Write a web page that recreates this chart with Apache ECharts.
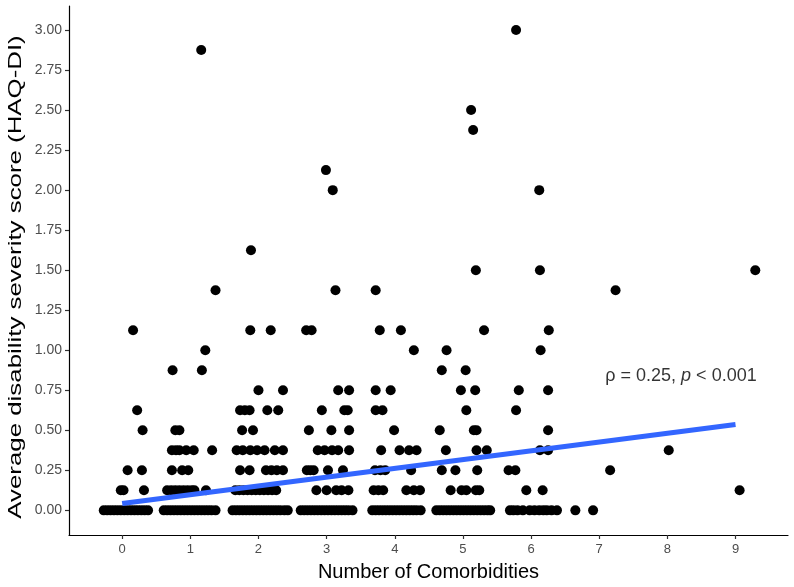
<!DOCTYPE html>
<html>
<head>
<meta charset="utf-8">
<script src="https://cdn.jsdelivr.net/npm/echarts@6/dist/echarts.min.js"></script>
<style>
html, body { margin: 0; padding: 0; background: #fff; }
#chart { width: 794px; height: 587px; }
</style>
</head>
<body>
<div id="chart"></div>
<script>
// jittered points per number of comorbidities: [x, HAQ-DI]
var group0 = [
    [-0.27, 0], [-0.22, 0], [-0.17, 0], [-0.12, 0], [-0.07, 0], [-0.02, 0], [0.03, 0], [0.08, 0],
    [0.13, 0], [0.18, 0], [0.23, 0], [0.28, 0], [0.33, 0], [0.38, 0],
    [-0.02, 0.125], [0.02, 0.125], [0.32, 0.125],
    [0.08, 0.25], [0.29, 0.25],
    [0.30, 0.5], [0.22, 0.625], [0.16, 1.125]
];
var group1 = [
    [0.61, 0], [0.66, 0], [0.71, 0], [0.76, 0], [0.81, 0], [0.86, 0], [0.91, 0], [0.96, 0],
    [1.01, 0], [1.06, 0], [1.11, 0], [1.16, 0], [1.21, 0], [1.26, 0], [1.31, 0], [1.37, 0],
    [0.66, 0.125], [0.72, 0.125], [0.78, 0.125], [0.84, 0.125], [0.90, 0.125], [0.96, 0.125],
    [1.02, 0.125], [1.06, 0.125], [1.23, 0.125],
    [0.73, 0.25], [0.88, 0.25], [0.97, 0.25],
    [0.73, 0.375], [0.79, 0.375], [0.84, 0.375], [0.94, 0.375], [1.05, 0.375], [1.32, 0.375],
    [0.78, 0.5], [0.84, 0.5],
    [0.74, 0.875], [1.17, 0.875], [1.22, 1.0], [1.37, 1.375], [1.16, 2.875]
];
var group2 = [
    [1.62, 0], [1.67, 0], [1.72, 0], [1.77, 0], [1.82, 0], [1.87, 0], [1.92, 0], [1.97, 0],
    [2.02, 0], [2.07, 0], [2.12, 0], [2.17, 0], [2.22, 0], [2.27, 0], [2.32, 0], [2.38, 0], [2.43, 0],
    [1.66, 0.125], [1.72, 0.125], [1.78, 0.125], [1.84, 0.125], [1.90, 0.125], [1.96, 0.125],
    [2.02, 0.125], [2.08, 0.125], [2.14, 0.125], [2.20, 0.125], [2.26, 0.125],
    [1.73, 0.25], [1.87, 0.25], [2.11, 0.25], [2.19, 0.25], [2.27, 0.25], [2.36, 0.25],
    [1.68, 0.375], [1.77, 0.375], [1.88, 0.375], [1.98, 0.375], [2.09, 0.375], [2.24, 0.375], [2.36, 0.375],
    [1.76, 0.5], [1.92, 0.5],
    [1.73, 0.625], [1.80, 0.625], [1.87, 0.625], [2.13, 0.625], [2.29, 0.625],
    [2.00, 0.75], [2.36, 0.75],
    [1.88, 1.125], [2.18, 1.125], [1.89, 1.625]
];
var group3 = [
    [2.62, 0], [2.67, 0], [2.72, 0], [2.77, 0], [2.82, 0], [2.87, 0], [2.92, 0], [2.97, 0],
    [3.02, 0], [3.07, 0], [3.12, 0], [3.17, 0], [3.22, 0], [3.27, 0], [3.32, 0], [3.38, 0],
    [2.85, 0.125], [3.00, 0.125], [3.14, 0.125], [3.22, 0.125], [3.32, 0.125],
    [2.71, 0.25], [2.76, 0.25], [2.81, 0.25], [3.02, 0.25], [3.24, 0.25],
    [2.87, 0.375], [2.97, 0.375], [3.08, 0.375], [3.17, 0.375], [3.33, 0.375],
    [2.74, 0.5], [3.07, 0.5], [3.33, 0.5],
    [2.93, 0.625], [3.26, 0.625], [3.31, 0.625],
    [3.17, 0.75], [3.33, 0.75],
    [2.70, 1.125], [2.78, 1.125], [3.13, 1.375], [3.09, 2.0], [2.99, 2.125]
];
var group4 = [
    [3.67, 0], [3.72, 0], [3.77, 0], [3.82, 0], [3.87, 0], [3.92, 0], [3.97, 0], [4.02, 0],
    [4.07, 0], [4.12, 0], [4.17, 0], [4.22, 0], [4.27, 0], [4.32, 0], [4.38, 0],
    [3.69, 0.125], [3.76, 0.125], [3.83, 0.125], [4.17, 0.125], [4.28, 0.125], [4.37, 0.125],
    [3.71, 0.25], [3.79, 0.25], [3.86, 0.25], [4.24, 0.25],
    [3.80, 0.375], [4.07, 0.375], [4.21, 0.375], [4.32, 0.375],
    [3.99, 0.5], [3.72, 0.625], [3.82, 0.625], [3.72, 0.75], [3.94, 0.75],
    [4.28, 1.0], [3.78, 1.125], [4.09, 1.125], [3.72, 1.375]
];
var group5 = [
    [4.61, 0], [4.66, 0], [4.71, 0], [4.76, 0], [4.81, 0], [4.86, 0], [4.91, 0], [4.96, 0], [5.01, 0],
    [5.06, 0], [5.11, 0], [5.16, 0], [5.21, 0], [5.26, 0], [5.31, 0], [5.36, 0], [5.40, 0],
    [4.82, 0.125], [4.98, 0.125], [5.05, 0.125], [5.19, 0.125], [5.24, 0.125],
    [4.69, 0.25], [4.89, 0.25], [5.21, 0.25],
    [4.75, 0.375], [5.20, 0.375], [5.35, 0.375],
    [4.66, 0.5], [5.16, 0.5], [5.20, 0.5],
    [5.05, 0.625], [4.97, 0.75], [5.18, 0.75], [4.69, 0.875], [5.04, 0.875],
    [4.76, 1.0], [5.31, 1.125], [5.19, 1.5], [5.15, 2.375], [5.12, 2.5]
];
var group6 = [
    [5.69, 0], [5.74, 0], [5.80, 0], [5.88, 0], [5.98, 0], [6.05, 0], [6.12, 0], [6.18, 0],
    [6.23, 0], [6.30, 0], [6.38, 0],
    [5.93, 0.125], [6.17, 0.125], [5.67, 0.25], [5.77, 0.25],
    [6.13, 0.375], [6.25, 0.375], [6.25, 0.5], [5.78, 0.625], [5.82, 0.75], [6.25, 0.75],
    [6.14, 1.0], [6.26, 1.125], [6.13, 1.5], [6.12, 2.0], [5.78, 3.0]
];
var group7to9 = [
    [6.65, 0], [6.91, 0], [7.16, 0.25], [7.24, 1.375],
    [8.02, 0.375], [9.06, 0.125], [9.29, 1.5]
];

// linear fit
var fitX = [0, 9];
var fitY = [0.043, 0.536];

var xTicks = [0, 1, 2, 3, 4, 5, 6, 7, 8, 9];
var yTicks = [0, 0.25, 0.5, 0.75, 1, 1.25, 1.5, 1.75, 2, 2.25, 2.5, 2.75, 3];

var points = group0.concat(group1, group2, group3, group4, group5, group6, group7to9);
var fitLine = fitX.map(function (x, i) { return [x, fitY[i]]; });

var font = 'Arial, "Liberation Sans", Helvetica, sans-serif';
var myChart = echarts.init(document.getElementById('chart'), null, { renderer: 'canvas' });

var option = {
    backgroundColor: '#fff',
    animation: false,
    textStyle: { fontFamily: font },
    grid: { left: 69, right: 6, top: 6, bottom: 45, containLabel: false },
    // y title, stretched along its length like the original
    graphic: [{
        type: 'text',
        x: 15.5,
        y: 277,
        rotation: Math.PI / 2,
        scaleX: 1.36,
        style: {
            text: 'Average disability severity score (HAQ-DI)',
            font: '19px ' + font,
            fill: '#000',
            align: 'center',
            verticalAlign: 'middle'
        }
    }],
    xAxis: {
        type: 'value',
        min: -0.78,
        max: 9.77,
        name: 'Number of Comorbidities',
        nameLocation: 'middle',
        nameGap: 27,
        nameTextStyle: { fontSize: 20, color: '#000', fontFamily: font },
        splitLine: { show: false },
        axisLine: { onZero: false, lineStyle: { color: '#000', width: 1.2 } },
        axisTick: { customValues: xTicks, length: 4, lineStyle: { color: '#333', width: 1.2 } },
        axisLabel: { customValues: xTicks, fontSize: 13, color: '#4d4d4d', margin: 8, fontFamily: font }
    },
    yAxis: {
        type: 'value',
        min: -0.154,
        max: 3.15,
        splitLine: { show: false },
        axisLine: { show: true, onZero: false, lineStyle: { color: '#000', width: 1.2 } },
        axisTick: { show: true, customValues: yTicks, length: 4, lineStyle: { color: '#333', width: 1.2 } },
        axisLabel: {
            customValues: yTicks, fontSize: 14, color: '#4d4d4d', margin: 7, fontFamily: font,
            formatter: function (v) { return v.toFixed(2); }
        }
    },
    series: [
        {
            type: 'scatter',
            data: points,
            symbolSize: 10,
            itemStyle: { color: '#000', opacity: 1 },
            z: 2
        },
        {
            type: 'line',
            data: fitLine,
            showSymbol: false,
            lineStyle: { color: '#3366ff', width: 5 },
            z: 3
        },
        {
            type: 'scatter',
            data: [[8.2, 0.84]],
            symbolSize: 0,
            label: {
                show: true,
                position: 'inside',
                formatter: '{a|ρ = 0.25, }{b|p}{a| < 0.001}',
                rich: {
                    a: { fontSize: 18, color: '#000', fontFamily: font },
                    b: { fontSize: 18, color: '#000', fontStyle: 'italic', fontFamily: font }
                }
            },
            z: 4
        }
    ]
};
myChart.setOption(option);
</script>
</body>
</html>
